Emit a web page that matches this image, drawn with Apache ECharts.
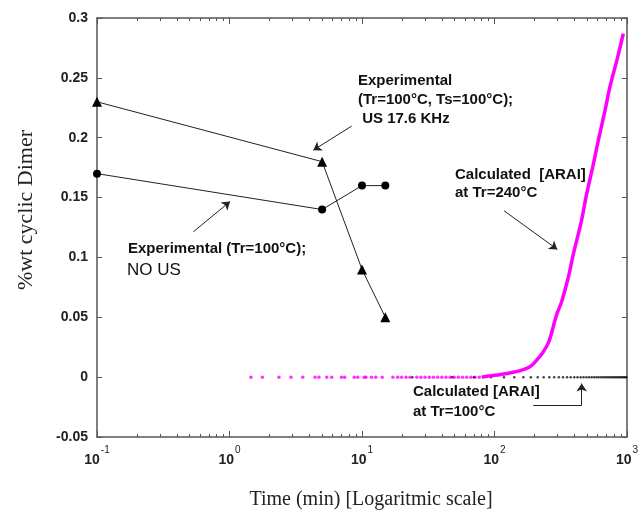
<!DOCTYPE html>
<html>
<head>
<meta charset="utf-8">
<script src="https://cdn.jsdelivr.net/npm/echarts@6/dist/echarts.min.js"></script>
<style>
  html, body { margin: 0; padding: 0; background: #fff; }
  #main { width: 642px; height: 512px; }
</style>
</head>
<body>
<div id="main"></div>
<script>
// Experimental with ultrasound (Tr=100°C, Ts=100°C; US 17.6 kHz) - triangles
const usTime = [0.1, 5, 10, 15];
const usDimer = [0.23, 0.18, 0.09, 0.05];

// Experimental without ultrasound (Tr=100°C) - circles
const noUsTime = [0.1, 5, 10, 15];
const noUsDimer = [0.17, 0.14, 0.16, 0.16];

// Calculated [ARAI] at Tr=240°C - sparse points sitting on zero
const arai240FlatTime = [1.45, 1.77, 2.36, 2.91, 3.57, 4.42, 4.73, 5.42, 5.91, 7.0, 7.4, 8.75, 9.29,
  10.4, 10.7, 11.8, 12.7, 14.2, 17.1, 18.6, 19.9, 21.5, 23.0, 25.9, 27.8, 29.9, 32.2, 34.6, 37.2,
  40.0, 43.0, 46.2, 49.7, 53.4, 57.4, 61.7, 66.3, 71.3, 76.7];
const arai240FlatDimer = [0, 0, 0, 0, 0, 0, 0, 0, 0, 0, 0, 0, 0, 0, 0, 0, 0, 0, 0, 0, 0, 0, 0,
  0, 0, 0, 0, 0, 0, 0, 0, 0, 0, 0, 0, 0, 0, 0, 0];

// Calculated [ARAI] at Tr=240°C - rising part of the curve
const arai240Time = [80, 90, 100, 115, 130, 156, 180, 196, 215, 233, 258, 294, 321, 360, 394, 450,
  496, 550, 608, 680, 745, 840, 938];
const arai240Dimer = [0, 0.001, 0.0015, 0.0025, 0.0035, 0.0055, 0.008, 0.011, 0.016, 0.021, 0.030,
  0.052, 0.063, 0.083, 0.103, 0.129, 0.153, 0.175, 0.198, 0.222, 0.243, 0.265, 0.287];

// Calculated [ARAI] at Tr=100°C - stays at zero
const arai100Time = [24, 48, 70, 94, 118, 141, 165, 188, 212, 235, 259, 282, 306, 329, 353, 376,
  400, 423, 447, 470, 494, 517, 541, 564, 588, 611, 635, 658, 682, 705, 729, 752, 776, 799, 823,
  846, 870, 893, 917, 940, 964, 987];
const arai100Dimer = [0, 0, 0, 0, 0, 0, 0, 0, 0, 0, 0, 0, 0, 0, 0, 0, 0, 0, 0, 0, 0, 0, 0, 0, 0,
  0, 0, 0, 0, 0, 0, 0, 0, 0, 0, 0, 0, 0, 0, 0, 0, 0];

// minor ticks on the log axis
const xMinorTicks = [0.2, 0.3, 0.4, 0.5, 0.6, 0.7, 0.8, 0.9, 2, 3, 4, 5, 6, 7, 8, 9,
  20, 30, 40, 50, 60, 70, 80, 90, 200, 300, 400, 500, 600, 700, 800, 900];

const pairs = (xs, ys) => xs.map((x, i) => [x, ys[i]]);

const chart = echarts.init(document.getElementById("main"), null, { renderer: "canvas" });

const axisColor = "#555";
const gridBox = { left: 97, right: 15, top: 18, bottom: 75 };

const logAxis = (extra) =>
  Object.assign(
    {
      type: "log",
      logBase: 10,
      min: 0.1,
      max: 1000,
      splitLine: { show: false },
      axisLine: { show: true, onZero: false, lineStyle: { color: axisColor, width: 1.5 } },
      axisTick: { show: true, inside: true, length: 6, lineStyle: { color: axisColor } },
      axisLabel: { show: false },
    },
    extra
  );

const option = {
  animation: false,
  backgroundColor: "#fff",
  grid: [
    Object.assign({}, gridBox),
    Object.assign({}, gridBox),
  ],
  xAxis: [
    logAxis({
      gridIndex: 0,
      position: "bottom",
      axisLabel: {
        show: true,
        margin: 8,
        formatter: (v) => "{b|10}{s|" + Math.round(Math.log10(v)) + "}",
        rich: {
          b: { fontFamily: "Liberation Sans", fontWeight: "bold", fontSize: 14, color: "#222", lineHeight: 22, verticalAlign: "bottom" },
          s: { fontFamily: "Liberation Sans", fontSize: 10, color: "#222", lineHeight: 22, verticalAlign: "top", padding: [0, 0, 0, 1] },
        },
      },
    }),
    logAxis({ gridIndex: 0, position: "top" }),
    logAxis({
      gridIndex: 1,
      position: "bottom",
      axisLine: { show: false, onZero: false },
      axisTick: { show: true, inside: true, length: 3, customValues: xMinorTicks, lineStyle: { color: axisColor } },
    }),
    logAxis({
      gridIndex: 1,
      position: "top",
      axisLine: { show: false, onZero: false },
      axisTick: { show: true, inside: true, length: 3, customValues: xMinorTicks, lineStyle: { color: axisColor } },
    }),
  ],
  yAxis: [
    {
      gridIndex: 0,
      type: "value",
      position: "left",
      min: -0.05,
      max: 0.3,
      interval: 0.05,
      splitLine: { show: false },
      axisLine: { show: true, onZero: false, lineStyle: { color: axisColor, width: 1.5 } },
      axisTick: { show: true, inside: true, length: 5, lineStyle: { color: axisColor } },
      axisLabel: {
        margin: 9,
        fontFamily: "Liberation Sans",
        fontWeight: "bold",
        fontSize: 14,
        color: "#222",
        formatter: (v) => String(+v.toFixed(2)),
      },
    },
    {
      gridIndex: 0,
      type: "value",
      position: "right",
      min: -0.05,
      max: 0.3,
      interval: 0.05,
      splitLine: { show: false },
      axisLine: { show: true, onZero: false, lineStyle: { color: axisColor, width: 1.5 } },
      axisTick: { show: true, inside: true, length: 5, lineStyle: { color: axisColor } },
      axisLabel: { show: false },
    },
    { gridIndex: 1, type: "value", min: -0.05, max: 0.3, show: false },
  ],
  graphic: [
    {
      type: "text",
      x: 27,
      y: 210,
      rotation: Math.PI / 2,
      scaleX: 1.1,
      style: {
        text: "%wt cyclic Dimer",
        font: "20px 'Liberation Serif'",
        fill: "#222",
        align: "center",
        verticalAlign: "middle",
      },
    },
    {
      type: "text",
      x: 371,
      y: 500,
      style: {
        text: "Time (min) [Logaritmic scale]",
        font: "20px 'Liberation Serif'",
        fill: "#222",
        align: "center",
        verticalAlign: "middle",
      },
    },
    {
      type: "text",
      x: 358,
      y: 71,
      style: {
        text: "Experimental\n(Tr=100°C, Ts=100°C);\n US 17.6 KHz",
        font: "bold 15px 'Liberation Sans'",
        lineHeight: 19,
        fill: "#111",
      },
    },
    {
      type: "text",
      x: 128,
      y: 240,
      style: {
        text: "Experimental (Tr=100°C);",
        font: "bold 15px 'Liberation Sans'",
        lineHeight: 17,
        fill: "#111",
      },
    },
    {
      type: "text",
      x: 127,
      y: 261,
      style: {
        text: "NO US",
        font: "17px 'Liberation Sans'",
        lineHeight: 19,
        fill: "#111",
      },
    },
    {
      type: "text",
      x: 455,
      y: 166,
      style: {
        text: "Calculated  [ARAI]\nat Tr=240°C",
        font: "bold 15px 'Liberation Sans'",
        lineHeight: 18,
        fill: "#111",
      },
    },
    {
      type: "text",
      x: 413,
      y: 382,
      style: {
        text: "Calculated [ARAI]\nat Tr=100°C",
        font: "bold 15px 'Liberation Sans'",
        lineHeight: 20,
        fill: "#111",
      },
    },
  ],
  series: [
    {
      name: "Calculated [ARAI] at Tr=240°C (flat)",
      type: "scatter",
      xAxisIndex: 0,
      yAxisIndex: 0,
      symbolSize: 3.5,
      itemStyle: { color: "#ff00ff" },
      data: pairs(arai240FlatTime, arai240FlatDimer),
    },
    {
      name: "Calculated [ARAI] at Tr=240°C",
      type: "line",
      xAxisIndex: 0,
      yAxisIndex: 0,
      showSymbol: false,
      smooth: 0.3,
      lineStyle: { color: "#ff00ff", width: 3.5 },
      data: pairs(arai240Time, arai240Dimer),
    },
    {
      name: "Calculated [ARAI] at Tr=100°C",
      type: "scatter",
      xAxisIndex: 0,
      yAxisIndex: 0,
      symbolSize: 2.5,
      itemStyle: { color: "#111" },
      data: pairs(arai100Time, arai100Dimer),
    },
    {
      name: "Experimental US",
      type: "line",
      xAxisIndex: 0,
      yAxisIndex: 0,
      clip: false,
      symbol: "triangle",
      symbolSize: 10,
      itemStyle: { color: "#000" },
      lineStyle: { color: "#222", width: 1 },
      data: pairs(usTime, usDimer),
    },
    {
      name: "Experimental NO US",
      type: "line",
      xAxisIndex: 0,
      yAxisIndex: 0,
      clip: false,
      symbol: "circle",
      symbolSize: 8,
      itemStyle: { color: "#000" },
      lineStyle: { color: "#222", width: 1 },
      data: pairs(noUsTime, noUsDimer),
      markLine: {
        silent: true,
        symbol: ["none", "arrow"],
        symbolSize: 8,
        label: { show: false },
        lineStyle: { color: "#222", width: 1, type: "solid" },
        data: [
          [{ coord: [8.35, 0.2097] }, { coord: [4.29, 0.1896] }],
          [{ coord: [0.533, 0.1214] }, { coord: [1.01, 0.1467] }],
          [{ coord: [118, 0.139] }, { coord: [298, 0.1067] }],
          [{ coord: [196, -0.0234], symbol: "none" }, { coord: [455, -0.0234], symbol: "none" }],
          [{ coord: [455, -0.0234] }, { coord: [455, -0.0053] }],
        ],
      },
    },
  ],
};

chart.setOption(option);
</script>
</body>
</html>
